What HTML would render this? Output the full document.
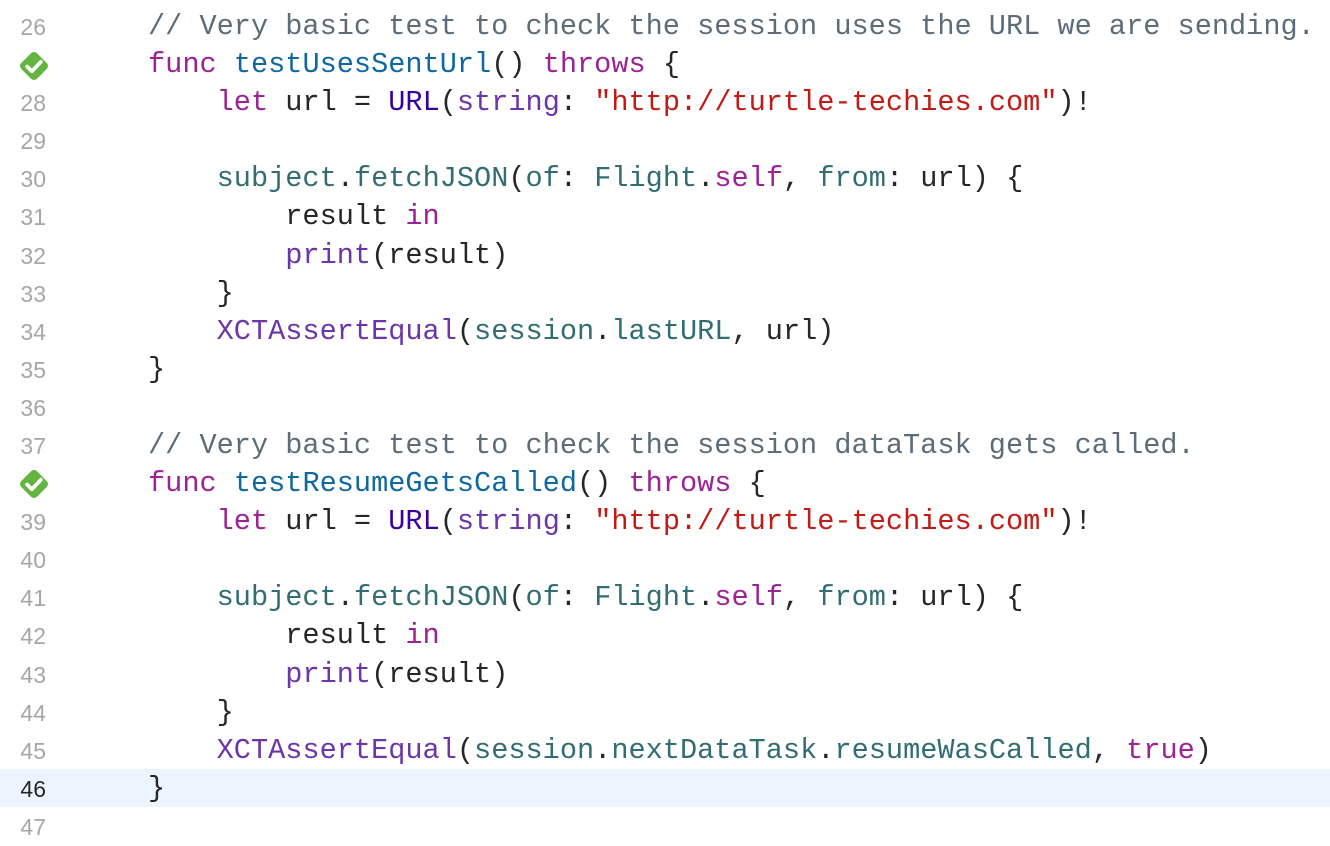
<!DOCTYPE html>
<html><head><meta charset="utf-8"><style>
body{margin:0;width:1330px;height:822px;background:#fff;overflow:hidden;position:relative;font-family:"Liberation Mono",monospace}
.hl{position:absolute;left:0;top:769px;width:1330px;height:38px;background:#ecf5ff}
.n{position:absolute;left:0;width:46px;text-align:right;font-family:"Liberation Sans",sans-serif;font-size:23px;color:#a6a6a6;height:38px;line-height:38px}
.c{position:absolute;left:148px;font-size:28.6px;color:#262626;white-space:pre;height:38px;line-height:38px}
.cm{color:#5d6c79}.k{color:#9b2393}.f{color:#0f68a0}.t{color:#3900a0}.s{color:#c41a16}.p{color:#6c36a9}.u{color:#326d74}
.ok{position:absolute;left:16px;width:36px;height:36px}
</style></head><body>
<div class="hl"></div>
<div class="n" style="top:-30px">25</div>
<div class="n" style="top:8px">26</div>
<div class="n" style="top:84px">28</div>
<div class="n" style="top:122px">29</div>
<div class="n" style="top:160px">30</div>
<div class="n" style="top:198px">31</div>
<div class="n" style="top:237px">32</div>
<div class="n" style="top:275px">33</div>
<div class="n" style="top:313px">34</div>
<div class="n" style="top:351px">35</div>
<div class="n" style="top:389px">36</div>
<div class="n" style="top:427px">37</div>
<div class="n" style="top:503px">39</div>
<div class="n" style="top:541px">40</div>
<div class="n" style="top:579px">41</div>
<div class="n" style="top:617px">42</div>
<div class="n" style="top:656px">43</div>
<div class="n" style="top:694px">44</div>
<div class="n" style="top:732px">45</div>
<div class="n" style="top:770px;color:#262626">46</div>
<div class="n" style="top:808px">47</div>
<svg class="ok" style="top:48px" viewBox="0 0 34 34"><rect x="6.5" y="6.5" width="21" height="21" rx="4" transform="rotate(45 17 17)" fill="#64b53f"/><path d="M10.5 17.5l4.5 4.5 8.5-9" stroke="#fff" stroke-width="3.5" fill="none" stroke-linecap="round" stroke-linejoin="round"/></svg>
<svg class="ok" style="top:466px" viewBox="0 0 34 34"><rect x="6.5" y="6.5" width="21" height="21" rx="4" transform="rotate(45 17 17)" fill="#64b53f"/><path d="M10.5 17.5l4.5 4.5 8.5-9" stroke="#fff" stroke-width="3.5" fill="none" stroke-linecap="round" stroke-linejoin="round"/></svg>
<div class="c" style="top:8px"><span class="cm">// Very basic test to check the session uses the URL we are sending.</span></div>
<div class="c" style="top:46px"><span class="k">func</span> <span class="f">testUsesSentUrl</span>() <span class="k">throws</span> {</div>
<div class="c" style="top:84px">    <span class="k">let</span> url = <span class="t">URL</span>(<span class="p">string</span>: <span class="s">"http://turtle-techies.com"</span>)!</div>
<div class="c" style="top:160px">    <span class="u">subject</span>.<span class="u">fetchJSON</span>(<span class="u">of</span>: <span class="u">Flight</span>.<span class="k">self</span>, <span class="u">from</span>: url) {</div>
<div class="c" style="top:198px">        result <span class="k">in</span></div>
<div class="c" style="top:237px">        <span class="p">print</span>(result)</div>
<div class="c" style="top:275px">    }</div>
<div class="c" style="top:313px">    <span class="p">XCTAssertEqual</span>(<span class="u">session</span>.<span class="u">lastURL</span>, url)</div>
<div class="c" style="top:351px">}</div>
<div class="c" style="top:427px"><span class="cm">// Very basic test to check the session dataTask gets called.</span></div>
<div class="c" style="top:465px"><span class="k">func</span> <span class="f">testResumeGetsCalled</span>() <span class="k">throws</span> {</div>
<div class="c" style="top:503px">    <span class="k">let</span> url = <span class="t">URL</span>(<span class="p">string</span>: <span class="s">"http://turtle-techies.com"</span>)!</div>
<div class="c" style="top:579px">    <span class="u">subject</span>.<span class="u">fetchJSON</span>(<span class="u">of</span>: <span class="u">Flight</span>.<span class="k">self</span>, <span class="u">from</span>: url) {</div>
<div class="c" style="top:617px">        result <span class="k">in</span></div>
<div class="c" style="top:656px">        <span class="p">print</span>(result)</div>
<div class="c" style="top:694px">    }</div>
<div class="c" style="top:732px">    <span class="p">XCTAssertEqual</span>(<span class="u">session</span>.<span class="u">nextDataTask</span>.<span class="u">resumeWasCalled</span>, <span class="k">true</span>)</div>
<div class="c" style="top:770px">}</div>
</body></html>
